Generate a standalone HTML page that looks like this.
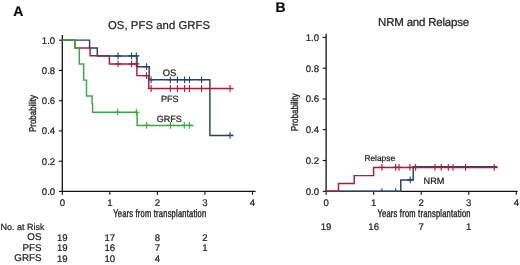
<!DOCTYPE html>
<html><head><meta charset="utf-8"><style>
html,body{margin:0;padding:0;background:#fff;width:520px;height:265px;overflow:hidden}
svg{display:block;will-change:transform;text-rendering:geometricPrecision}
text{stroke:#222;stroke-width:0.22px}
</style></head><body>
<svg width="520" height="265" viewBox="0 0 520 265" font-family='"Liberation Sans", sans-serif'><rect width="520" height="265" fill="#fff"/><text x="13.2" y="15.8" font-size="14" font-weight="bold" fill="#000">A</text><text x="275.4" y="11.9" font-size="14" font-weight="bold" fill="#000">B</text><text x="108.0" y="29.2" font-size="11.3" fill="#222" textLength="102.0" lengthAdjust="spacing">OS, PFS and GRFS</text><text x="378.1" y="25.6" font-size="11.5" fill="#222" textLength="91.0" lengthAdjust="spacing">NRM and Relapse</text><path d="M62.3,35.0V191.4" stroke="#111" stroke-width="1.3" fill="none"/><path d="M61.65,191.4H255.6" stroke="#111" stroke-width="1.3" fill="none"/><path d="M58.9,191.4H62.3" stroke="#111" stroke-width="1.1"/><text x="55.20" y="194.80" font-size="9.6" text-anchor="end" fill="#222">0.0</text><path d="M58.9,161.2H62.3" stroke="#111" stroke-width="1.1"/><text x="55.20" y="164.56" font-size="9.6" text-anchor="end" fill="#222">0.2</text><path d="M58.9,130.9H62.3" stroke="#111" stroke-width="1.1"/><text x="55.20" y="134.32" font-size="9.6" text-anchor="end" fill="#222">0.4</text><path d="M58.9,100.7H62.3" stroke="#111" stroke-width="1.1"/><text x="55.20" y="104.08" font-size="9.6" text-anchor="end" fill="#222">0.6</text><path d="M58.9,70.4H62.3" stroke="#111" stroke-width="1.1"/><text x="55.20" y="73.84" font-size="9.6" text-anchor="end" fill="#222">0.8</text><path d="M58.9,40.2H62.3" stroke="#111" stroke-width="1.1"/><text x="55.20" y="43.60" font-size="9.6" text-anchor="end" fill="#222">1.0</text><path d="M62.3,191.4V194.8" stroke="#111" stroke-width="1.1"/><text x="62.30" y="205.60" font-size="9.6" text-anchor="middle" fill="#222">0</text><path d="M109.8,191.4V194.8" stroke="#111" stroke-width="1.1"/><text x="109.85" y="205.60" font-size="9.6" text-anchor="middle" fill="#222">1</text><path d="M157.4,191.4V194.8" stroke="#111" stroke-width="1.1"/><text x="157.40" y="205.60" font-size="9.6" text-anchor="middle" fill="#222">2</text><path d="M204.9,191.4V194.8" stroke="#111" stroke-width="1.1"/><text x="204.95" y="205.60" font-size="9.6" text-anchor="middle" fill="#222">3</text><path d="M252.5,191.4V194.8" stroke="#111" stroke-width="1.1"/><text x="252.50" y="205.60" font-size="9.6" text-anchor="middle" fill="#222">4</text><path d="M326.1,33.8V191.3" stroke="#111" stroke-width="1.3" fill="none"/><path d="M325.45000000000005,191.3H517.6" stroke="#111" stroke-width="1.3" fill="none"/><path d="M322.70000000000005,191.3H326.1" stroke="#111" stroke-width="1.1"/><text x="319.00" y="194.70" font-size="9.6" text-anchor="end" fill="#222">0.0</text><path d="M322.70000000000005,160.5H326.1" stroke="#111" stroke-width="1.1"/><text x="319.00" y="163.92" font-size="9.6" text-anchor="end" fill="#222">0.2</text><path d="M322.70000000000005,129.7H326.1" stroke="#111" stroke-width="1.1"/><text x="319.00" y="133.14" font-size="9.6" text-anchor="end" fill="#222">0.4</text><path d="M322.70000000000005,99.0H326.1" stroke="#111" stroke-width="1.1"/><text x="319.00" y="102.36" font-size="9.6" text-anchor="end" fill="#222">0.6</text><path d="M322.70000000000005,68.2H326.1" stroke="#111" stroke-width="1.1"/><text x="319.00" y="71.58" font-size="9.6" text-anchor="end" fill="#222">0.8</text><path d="M322.70000000000005,37.4H326.1" stroke="#111" stroke-width="1.1"/><text x="319.00" y="40.80" font-size="9.6" text-anchor="end" fill="#222">1.0</text><path d="M326.1,191.3V194.70000000000002" stroke="#111" stroke-width="1.1"/><text x="326.10" y="205.60" font-size="9.6" text-anchor="middle" fill="#222">0</text><path d="M373.7,191.3V194.70000000000002" stroke="#111" stroke-width="1.1"/><text x="373.65" y="205.60" font-size="9.6" text-anchor="middle" fill="#222">1</text><path d="M421.2,191.3V194.70000000000002" stroke="#111" stroke-width="1.1"/><text x="421.20" y="205.60" font-size="9.6" text-anchor="middle" fill="#222">2</text><path d="M468.8,191.3V194.70000000000002" stroke="#111" stroke-width="1.1"/><text x="468.75" y="205.60" font-size="9.6" text-anchor="middle" fill="#222">3</text><path d="M516.3,191.3V194.70000000000002" stroke="#111" stroke-width="1.1"/><text x="516.30" y="205.60" font-size="9.6" text-anchor="middle" fill="#222">4</text><text transform="translate(113.2,217.3) scale(0.69,1)" font-size="10.9" fill="#222" style="stroke-width:0.4px" textLength="134.8" lengthAdjust="spacing">Years from transplantation</text><text transform="translate(377.5,217.2) scale(0.69,1)" font-size="10.9" fill="#222" style="stroke-width:0.4px" textLength="134.8" lengthAdjust="spacing">Years from transplantation</text><text transform="translate(36.0,131.9) rotate(-90)" font-size="9.9" fill="#222" style="stroke-width:0.35px" textLength="36.8" lengthAdjust="spacingAndGlyphs">Probability</text><text transform="translate(298.2,131.2) rotate(-90)" font-size="9.9" fill="#222" style="stroke-width:0.35px" textLength="37.8" lengthAdjust="spacingAndGlyphs">Probability</text><path d="M62.3,40.1H89.6V47.9H97.3V55.9H137V66.7H149.2V79.8H209.9V135.4H233.3" stroke="#22416f" stroke-width="1.45" fill="none" stroke-linejoin="miter" stroke-linecap="butt"/><path d="M118.1,52.5V59.3M114.9,55.9H121.3" stroke="#22416f" stroke-width="1.1" fill="none"/><path d="M131.6,52.5V59.3M128.4,55.9H134.8" stroke="#22416f" stroke-width="1.1" fill="none"/><path d="M136.3,52.5V59.3M133.1,55.9H139.5" stroke="#22416f" stroke-width="1.1" fill="none"/><path d="M146.6,63.3V70.1M143.4,66.7H149.8" stroke="#22416f" stroke-width="1.1" fill="none"/><path d="M151.1,76.4V83.2M147.9,79.8H154.3" stroke="#22416f" stroke-width="1.1" fill="none"/><path d="M170.3,76.4V83.2M167.1,79.8H173.5" stroke="#22416f" stroke-width="1.1" fill="none"/><path d="M177.4,76.4V83.2M174.2,79.8H180.6" stroke="#22416f" stroke-width="1.1" fill="none"/><path d="M184.6,76.4V83.2M181.4,79.8H187.8" stroke="#22416f" stroke-width="1.1" fill="none"/><path d="M189.5,76.4V83.2M186.3,79.8H192.7" stroke="#22416f" stroke-width="1.1" fill="none"/><path d="M201.6,76.4V83.2M198.4,79.8H204.8" stroke="#22416f" stroke-width="1.1" fill="none"/><path d="M230.0,132.0V138.8M226.8,135.4H233.2" stroke="#22416f" stroke-width="1.1" fill="none"/><path d="M62.3,40.1H75V47.9H90.1V55.7H109.4V63.9H136.9V75.6H148.8V88.5H233.3" stroke="#b3173c" stroke-width="1.45" fill="none" stroke-linejoin="miter" stroke-linecap="butt"/><path d="M118.1,60.5V67.3M114.9,63.9H121.3" stroke="#b3173c" stroke-width="1.1" fill="none"/><path d="M131.6,60.5V67.3M128.4,63.9H134.8" stroke="#b3173c" stroke-width="1.1" fill="none"/><path d="M136.3,60.5V67.3M133.1,63.9H139.5" stroke="#b3173c" stroke-width="1.1" fill="none"/><path d="M146.5,72.2V79.0M143.3,75.6H149.7" stroke="#b3173c" stroke-width="1.1" fill="none"/><path d="M151.1,85.1V91.9M147.9,88.5H154.3" stroke="#b3173c" stroke-width="1.1" fill="none"/><path d="M170.3,85.1V91.9M167.1,88.5H173.5" stroke="#b3173c" stroke-width="1.1" fill="none"/><path d="M177.4,85.1V91.9M174.2,88.5H180.6" stroke="#b3173c" stroke-width="1.1" fill="none"/><path d="M184.6,85.1V91.9M181.4,88.5H187.8" stroke="#b3173c" stroke-width="1.1" fill="none"/><path d="M189.5,85.1V91.9M186.3,88.5H192.7" stroke="#b3173c" stroke-width="1.1" fill="none"/><path d="M201.6,85.1V91.9M198.4,88.5H204.8" stroke="#b3173c" stroke-width="1.1" fill="none"/><path d="M230.0,85.1V91.9M226.8,88.5H233.2" stroke="#b3173c" stroke-width="1.1" fill="none"/><path d="M62.3,40.1H75V47.9H79.3V64H83.7V80.1H86.5V96H92.1V103.5H92.6V112.2H137.1V125.4H193.4" stroke="#3aa843" stroke-width="1.45" fill="none" stroke-linejoin="miter" stroke-linecap="butt"/><path d="M117.8,108.8V115.6M114.6,112.2H121.0" stroke="#3aa843" stroke-width="1.1" fill="none"/><path d="M136.3,108.8V115.6M133.1,112.2H139.5" stroke="#3aa843" stroke-width="1.1" fill="none"/><path d="M146.7,122.0V128.8M143.5,125.4H149.9" stroke="#3aa843" stroke-width="1.1" fill="none"/><path d="M170.5,122.0V128.8M167.3,125.4H173.7" stroke="#3aa843" stroke-width="1.1" fill="none"/><path d="M184.3,122.0V128.8M181.1,125.4H187.5" stroke="#3aa843" stroke-width="1.1" fill="none"/><path d="M189.4,122.0V128.8M186.2,125.4H192.6" stroke="#3aa843" stroke-width="1.1" fill="none"/><text x="162.8" y="75.8" font-size="9.4" fill="#222">OS</text><text x="161.0" y="101.8" font-size="9.0" fill="#222">PFS</text><text x="156.8" y="121.7" font-size="9.0" fill="#222">GRFS</text><path d="M326.1,191.3H400.8V179.9H413.2V166.7H497.2" stroke="#22416f" stroke-width="1.45" fill="none" stroke-linejoin="miter" stroke-linecap="butt"/><path d="M381.9,188.3V191.3" stroke="#22416f" stroke-width="1.1" fill="none"/><path d="M395.7,188.3V191.3" stroke="#22416f" stroke-width="1.1" fill="none"/><path d="M410.2,176.5V183.3M407.0,179.9H413.4" stroke="#22416f" stroke-width="1.1" fill="none"/><path d="M326.1,191.3H338.5V183.4H354.2V175.6H373.6V167.4H497.4" stroke="#b3173c" stroke-width="1.45" fill="none" stroke-linejoin="miter" stroke-linecap="butt"/><path d="M381.9,164.0V170.8M378.7,167.4H385.1" stroke="#b3173c" stroke-width="1.1" fill="none"/><path d="M395.7,164.0V170.8M392.5,167.4H398.9" stroke="#b3173c" stroke-width="1.1" fill="none"/><path d="M399.0,164.0V170.8M395.8,167.4H402.2" stroke="#b3173c" stroke-width="1.1" fill="none"/><path d="M409.9,164.0V170.8M406.7,167.4H413.1" stroke="#b3173c" stroke-width="1.1" fill="none"/><path d="M415.6,164.0V170.8M412.4,167.4H418.8" stroke="#b3173c" stroke-width="1.1" fill="none"/><path d="M435.0,164.0V170.8M431.8,167.4H438.2" stroke="#b3173c" stroke-width="1.1" fill="none"/><path d="M441.2,164.0V170.8M438.0,167.4H444.4" stroke="#b3173c" stroke-width="1.1" fill="none"/><path d="M448.3,164.0V170.8M445.1,167.4H451.5" stroke="#b3173c" stroke-width="1.1" fill="none"/><path d="M453.0,164.0V170.8M449.8,167.4H456.2" stroke="#b3173c" stroke-width="1.1" fill="none"/><path d="M465.6,164.0V170.8M462.4,167.4H468.8" stroke="#b3173c" stroke-width="1.1" fill="none"/><path d="M494.2,164.0V170.8M491.0,167.4H497.4" stroke="#b3173c" stroke-width="1.1" fill="none"/><text x="364.4" y="160.9" font-size="8.4" fill="#222">Relapse</text><text x="423.6" y="183.7" font-size="9.2" fill="#222">NRM</text><text x="0.6" y="229.7" font-size="9.0" fill="#222">No. at Risk</text><text x="41.50" y="240.20" font-size="9.8" text-anchor="end" fill="#222">OS</text><text x="62.30" y="240.50" font-size="9.6" text-anchor="middle" fill="#222">19</text><text x="109.85" y="240.50" font-size="9.6" text-anchor="middle" fill="#222">17</text><text x="157.40" y="240.50" font-size="9.6" text-anchor="middle" fill="#222">8</text><text x="204.95" y="240.50" font-size="9.6" text-anchor="middle" fill="#222">2</text><text x="41.50" y="250.80" font-size="9.8" text-anchor="end" fill="#222">PFS</text><text x="62.30" y="251.10" font-size="9.6" text-anchor="middle" fill="#222">19</text><text x="109.85" y="251.10" font-size="9.6" text-anchor="middle" fill="#222">16</text><text x="157.40" y="251.10" font-size="9.6" text-anchor="middle" fill="#222">7</text><text x="204.95" y="251.10" font-size="9.6" text-anchor="middle" fill="#222">1</text><text x="41.50" y="261.40" font-size="9.8" text-anchor="end" fill="#222">GRFS</text><text x="62.30" y="261.70" font-size="9.6" text-anchor="middle" fill="#222">19</text><text x="109.85" y="261.70" font-size="9.6" text-anchor="middle" fill="#222">10</text><text x="157.40" y="261.70" font-size="9.6" text-anchor="middle" fill="#222">4</text><text x="326.10" y="229.60" font-size="9.6" text-anchor="middle" fill="#222">19</text><text x="373.65" y="229.60" font-size="9.6" text-anchor="middle" fill="#222">16</text><text x="421.20" y="229.60" font-size="9.6" text-anchor="middle" fill="#222">7</text><text x="468.75" y="229.60" font-size="9.6" text-anchor="middle" fill="#222">1</text></svg>
</body></html>
